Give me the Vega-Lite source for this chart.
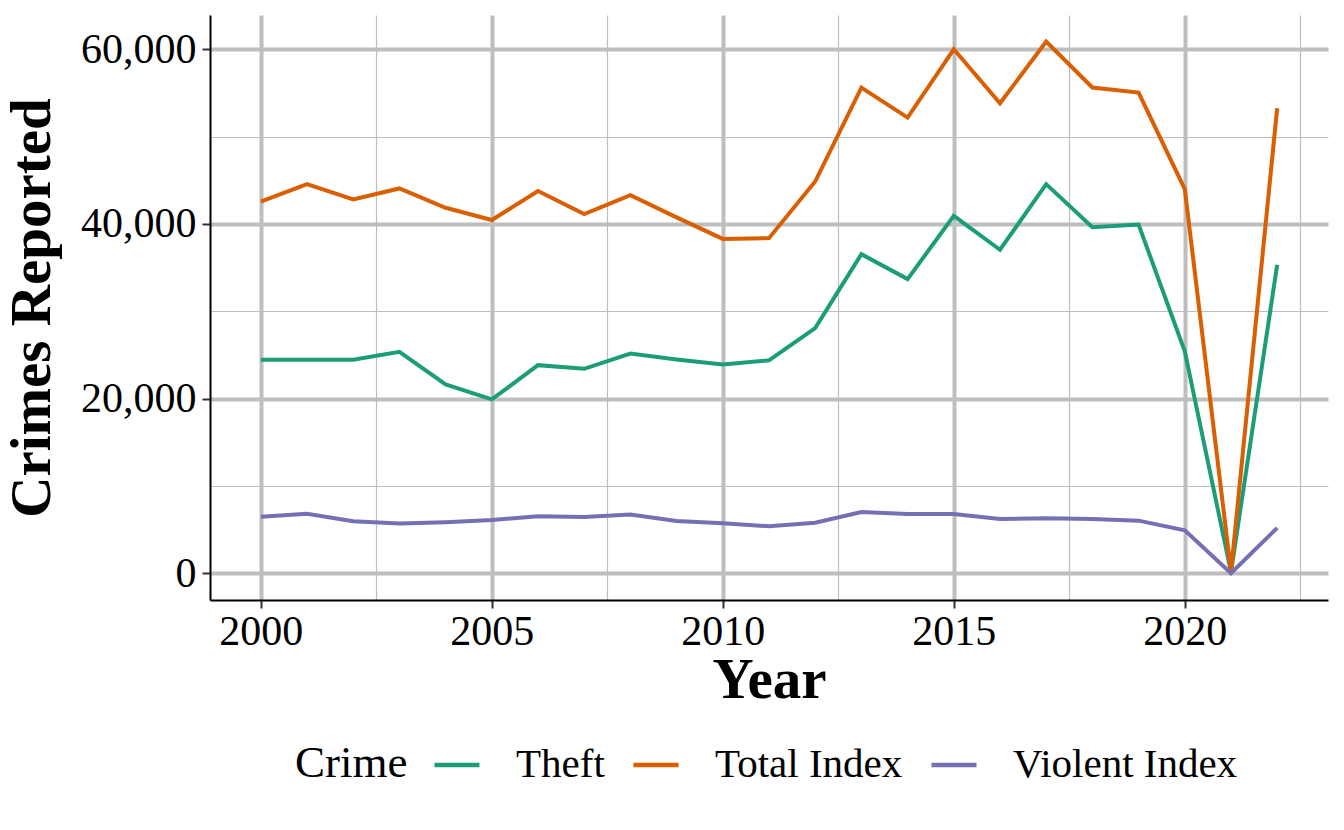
{
  "$schema": "https://vega.github.io/schema/vega-lite/v6.json",
  "width": 1118,
  "height": 585,
  "autosize": {"type": "none"},
  "padding": {"left": 210, "top": 15, "right": 16, "bottom": 230},
  "background": "white",
  "config": {
    "font": "Liberation Serif",
    "view": {"stroke": null},
    "axis": {"labelFont": "Liberation Serif", "titleFont": "Liberation Serif"},
    "legend": {"labelFont": "Liberation Serif", "titleFont": "Liberation Serif"}
  },
  "data": {
    "values": [
      {"Year": 2000, "Crime": "Theft", "Count": 24450},
      {"Year": 2001, "Crime": "Theft", "Count": 24450},
      {"Year": 2002, "Crime": "Theft", "Count": 24450},
      {"Year": 2003, "Crime": "Theft", "Count": 25360},
      {"Year": 2004, "Crime": "Theft", "Count": 21640},
      {"Year": 2005, "Crime": "Theft", "Count": 19920},
      {"Year": 2006, "Crime": "Theft", "Count": 23840},
      {"Year": 2007, "Crime": "Theft", "Count": 23420},
      {"Year": 2008, "Crime": "Theft", "Count": 25170},
      {"Year": 2009, "Crime": "Theft", "Count": 24490},
      {"Year": 2010, "Crime": "Theft", "Count": 23920},
      {"Year": 2011, "Crime": "Theft", "Count": 24390},
      {"Year": 2012, "Crime": "Theft", "Count": 28090},
      {"Year": 2013, "Crime": "Theft", "Count": 36550},
      {"Year": 2014, "Crime": "Theft", "Count": 33690},
      {"Year": 2015, "Crime": "Theft", "Count": 40940},
      {"Year": 2016, "Crime": "Theft", "Count": 37050},
      {"Year": 2017, "Crime": "Theft", "Count": 44560},
      {"Year": 2018, "Crime": "Theft", "Count": 39640},
      {"Year": 2019, "Crime": "Theft", "Count": 39940},
      {"Year": 2020, "Crime": "Theft", "Count": 25420},
      {"Year": 2021, "Crime": "Theft", "Count": 150},
      {"Year": 2022, "Crime": "Theft", "Count": 35330},
      {"Year": 2000, "Crime": "Total Index", "Count": 42550},
      {"Year": 2001, "Crime": "Total Index", "Count": 44560},
      {"Year": 2002, "Crime": "Total Index", "Count": 42810},
      {"Year": 2003, "Crime": "Total Index", "Count": 44070},
      {"Year": 2004, "Crime": "Total Index", "Count": 41860},
      {"Year": 2005, "Crime": "Total Index", "Count": 40460},
      {"Year": 2006, "Crime": "Total Index", "Count": 43770},
      {"Year": 2007, "Crime": "Total Index", "Count": 41140},
      {"Year": 2008, "Crime": "Total Index", "Count": 43310},
      {"Year": 2009, "Crime": "Total Index", "Count": 40760},
      {"Year": 2010, "Crime": "Total Index", "Count": 38290},
      {"Year": 2011, "Crime": "Total Index", "Count": 38380},
      {"Year": 2012, "Crime": "Total Index", "Count": 44860},
      {"Year": 2013, "Crime": "Total Index", "Count": 55620},
      {"Year": 2014, "Crime": "Total Index", "Count": 52180},
      {"Year": 2015, "Crime": "Total Index", "Count": 60000},
      {"Year": 2016, "Crime": "Total Index", "Count": 53820},
      {"Year": 2017, "Crime": "Total Index", "Count": 60880},
      {"Year": 2018, "Crime": "Total Index", "Count": 55620},
      {"Year": 2019, "Crime": "Total Index", "Count": 55040},
      {"Year": 2020, "Crime": "Total Index", "Count": 43990},
      {"Year": 2021, "Crime": "Total Index", "Count": 200},
      {"Year": 2022, "Crime": "Total Index", "Count": 53250},
      {"Year": 2000, "Crime": "Violent Index", "Count": 6490},
      {"Year": 2001, "Crime": "Violent Index", "Count": 6830},
      {"Year": 2002, "Crime": "Violent Index", "Count": 5960},
      {"Year": 2003, "Crime": "Violent Index", "Count": 5700},
      {"Year": 2004, "Crime": "Violent Index", "Count": 5850},
      {"Year": 2005, "Crime": "Violent Index", "Count": 6110},
      {"Year": 2006, "Crime": "Violent Index", "Count": 6530},
      {"Year": 2007, "Crime": "Violent Index", "Count": 6450},
      {"Year": 2008, "Crime": "Violent Index", "Count": 6750},
      {"Year": 2009, "Crime": "Violent Index", "Count": 6000},
      {"Year": 2010, "Crime": "Violent Index", "Count": 5740},
      {"Year": 2011, "Crime": "Violent Index", "Count": 5400},
      {"Year": 2012, "Crime": "Violent Index", "Count": 5810},
      {"Year": 2013, "Crime": "Violent Index", "Count": 7020},
      {"Year": 2014, "Crime": "Violent Index", "Count": 6790},
      {"Year": 2015, "Crime": "Violent Index", "Count": 6790},
      {"Year": 2016, "Crime": "Violent Index", "Count": 6230},
      {"Year": 2017, "Crime": "Violent Index", "Count": 6300},
      {"Year": 2018, "Crime": "Violent Index", "Count": 6230},
      {"Year": 2019, "Crime": "Violent Index", "Count": 6040},
      {"Year": 2020, "Crime": "Violent Index", "Count": 4940},
      {"Year": 2021, "Crime": "Violent Index", "Count": 30},
      {"Year": 2022, "Crime": "Violent Index", "Count": 5210}
    ]
  },
  "mark": {"type": "line", "strokeWidth": 4, "strokeCap": "butt", "strokeJoin": "miter"},
  "encoding": {
    "x": {
      "field": "Year",
      "type": "quantitative",
      "scale": {"domain": [1998.9, 2023.1], "nice": false, "zero": false},
      "axis": {
        "title": "Year",
        "values": [2000, 2002.5, 2005, 2007.5, 2010, 2012.5, 2015, 2017.5, 2020, 2022.5],
        "labelExpr": "datum.value % 5 === 0 ? format(datum.value, 'd') : ''",
        "labelFontSize": 42,
        "labelColor": "black",
        "labelPadding": 3,
        "labelFlush": false,
        "labelOverlap": false,
        "titleFontSize": 57,
        "titleFontWeight": "bold",
        "titleColor": "black",
        "titlePadding": 0,
        "domainColor": "black",
        "domainWidth": 2,
        "tickColor": "#333333",
        "tickWidth": 2,
        "tickSize": 8,
        "tickOpacity": {"condition": {"test": "datum.value % 5 === 0", "value": 1}, "value": 0},
        "grid": true,
        "gridColor": "#BEBEBE",
        "gridWidth": {"condition": {"test": "datum.value % 5 === 0", "value": 4}, "value": 1.2}
      }
    },
    "y": {
      "field": "Count",
      "type": "quantitative",
      "scale": {"domain": [-3044, 63924], "nice": false, "zero": false},
      "axis": {
        "title": "Crimes Reported",
        "values": [0, 10000, 20000, 30000, 40000, 50000, 60000],
        "labelExpr": "datum.value % 20000 === 0 ? format(datum.value, ',') : ''",
        "labelFontSize": 42,
        "labelColor": "black",
        "labelPadding": 6,
        "labelFlush": false,
        "labelOverlap": false,
        "titleFontSize": 57,
        "titleFontWeight": "bold",
        "titleColor": "black",
        "titleX": -161,
        "titleY": 292.5,
        "titleAngle": -90,
        "titleAlign": "center",
        "titleBaseline": "alphabetic",
        "domainColor": "black",
        "domainWidth": 2,
        "tickColor": "#333333",
        "tickWidth": 2,
        "tickSize": 8,
        "tickOpacity": {"condition": {"test": "datum.value % 20000 === 0", "value": 1}, "value": 0},
        "grid": true,
        "gridColor": "#BEBEBE",
        "gridWidth": {"condition": {"test": "datum.value % 20000 === 0", "value": 4}, "value": 1.2}
      }
    },
    "color": {
      "field": "Crime",
      "type": "nominal",
      "scale": {"domain": ["Theft", "Total Index", "Violent Index"], "range": ["#1B9E77", "#D95F02", "#7570B3"]},
      "legend": {
        "title": "Crime",
        "orient": "none",
        "legendX": 85,
        "legendY": 725,
        "direction": "horizontal",
        "titleOrient": "left",
        "titleFontSize": 45,
        "titleFontWeight": "normal",
        "titleColor": "black",
        "titlePadding": 24,
        "titleBaseline": "middle",
        "titleLimit": 0,
        "labelFontSize": 41,
        "labelColor": "black",
        "labelLimit": 0,
        "labelOffset": 34,
        "columnPadding": 19,
        "symbolType": "stroke",
        "symbolStrokeWidth": 4.5,
        "symbolSize": 2025
      }
    }
  }
}
